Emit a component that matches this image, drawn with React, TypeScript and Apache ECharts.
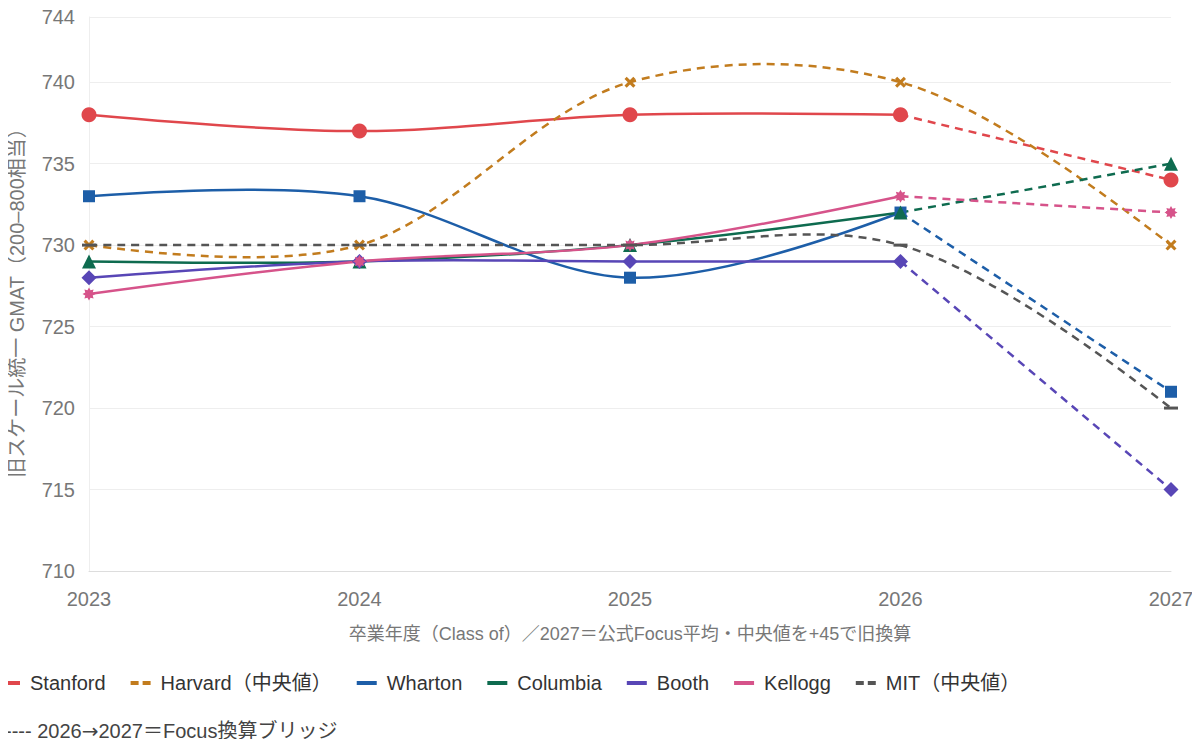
import React, { useEffect, useRef } from "react";
import * as echarts from "echarts";

const years = ["2023", "2024", "2025", "2026", "2027"];
const stanford = [738, 737, 738, 738, 734];
const harvard = [730, 730, 740, 740, 730];
const wharton = [733, 733, 728, 732, 721];
const columbia = [729, 729, 730, 732, 735];
const booth = [728, 729, 729, 729, 715];
const kellogg = [727, 729, 730, 733, 732];
const mit = [730, 730, 730, 730, 720];

const FONT = "'Liberation Sans', Arial, 'Noto Sans CJK JP', sans-serif";

function starPath(points: number, outer: number, inner: number): string {
  const parts: string[] = [];
  for (let i = 0; i < points * 2; i++) {
    const r = i % 2 === 0 ? outer : inner;
    const a = (Math.PI * i) / points - Math.PI / 2;
    parts.push(`${i === 0 ? "M" : "L"}${(10 + r * Math.cos(a)).toFixed(2)},${(10 + r * Math.sin(a)).toFixed(2)}`);
  }
  return "path://" + parts.join(" ") + " Z";
}

const X_SYMBOL = "path://M0,2 L2,0 L5,3 L8,0 L10,2 L7,5 L10,8 L8,10 L5,7 L2,10 L0,8 L3,5 Z";
const DASH_SYMBOL = "path://M0,0 L10,0 L10,2 L0,2 Z";
const STAR_SYMBOL = starPath(8, 10, 6.2);
const DASHED_ICON = "path://M0,0 L8,0 L8,4 L0,4 Z M12,0 L20,0 L20,4 L12,4 Z";

type School = {
  name: string;
  data: number[];
  color: string;
  symbol: string;
  size: number | number[];
  dashedAll: boolean;
};

const schools: School[] = [
  { name: "Stanford", data: stanford, color: "#e0474c", symbol: "circle", size: 15, dashedAll: false },
  { name: "Harvard（中央値）", data: harvard, color: "#c27c1e", symbol: X_SYMBOL, size: 11, dashedAll: true },
  { name: "Wharton", data: wharton, color: "#1d5ea8", symbol: "rect", size: 12, dashedAll: false },
  { name: "Columbia", data: columbia, color: "#0e6b4f", symbol: "triangle", size: 14, dashedAll: false },
  { name: "Booth", data: booth, color: "#5846b6", symbol: "diamond", size: 15, dashedAll: false },
  { name: "Kellogg", data: kellogg, color: "#d6538a", symbol: STAR_SYMBOL, size: 13, dashedAll: false },
  { name: "MIT（中央値）", data: mit, color: "#555555", symbol: DASH_SYMBOL, size: [14, 3], dashedAll: true },
];

const DASH = [8, 6];

// Catmull-Rom style spline (tangents from neighbours), in pixel space
function tangent(p: number[], t: number[], n: number[]): number[][] {
  const d1x = p[0] - t[0], d1y = p[1] - t[1];
  const d2x = n[0] - t[0], d2y = n[1] - t[1];
  const d1a = Math.pow(d1x * d1x + d1y * d1y, 0.25);
  const d2a = Math.pow(d2x * d2x + d2y * d2y, 0.25);
  const numx = d2a * d2a * d1x - d1a * d1a * d2x;
  const numy = d2a * d2a * d1y - d1a * d1a * d2y;
  const den1 = 3 * d2a * (d1a + d2a);
  const den2 = 3 * d1a * (d1a + d2a);
  return [
    [t[0] + (den1 ? numx / den1 : 0), t[1] + (den1 ? numy / den1 : 0)],
    [t[0] - (den2 ? numx / den2 : 0), t[1] - (den2 ? numy / den2 : 0)],
  ];
}

function splinePath(pts: number[][]): string {
  const f = (q: number[]) => `${q[0].toFixed(2)},${q[1].toFixed(2)}`;
  if (pts.length < 3) return "M" + pts.map(f).join("L");
  const tans: number[][][] = [];
  for (let i = 1; i < pts.length - 1; i++) tans.push(tangent(pts[i - 1], pts[i], pts[i + 1]));
  let d = "M" + f(pts[0]) + "Q" + f(tans[0][0]) + " " + f(pts[1]);
  for (let i = 2; i < pts.length - 1; i++) {
    d += "C" + f(tans[i - 2][1]) + " " + f(tans[i - 1][0]) + " " + f(pts[i]);
  }
  d += "Q" + f(tans[pts.length - 3][1]) + " " + f(pts[pts.length - 1]);
  return d;
}

function lineSeries(name: string, pairs: number[][], color: string, dashed: boolean, z: number) {
  return {
    type: "custom",
    name,
    data: pairs,
    encode: { x: 0, y: 1 },
    silent: true,
    z,
    renderItem: (params: any, api: any) => {
      if (params.dataIndex !== 0) return null;
      const pts = pairs.map((p) => api.coord([p[0], p[1]]));
      return {
        type: "path",
        shape: { pathData: splinePath(pts) },
        style: {
          stroke: color,
          lineWidth: 2.5,
          fill: "none",
          lineDash: dashed ? DASH : null,
        },
      };
    },
  };
}

export default function App() {
  const ref = useRef<HTMLDivElement>(null);

  useEffect(() => {
    if (!ref.current) return;
    const chart = echarts.init(ref.current, undefined, { renderer: "svg" });

    const lines: any[] = [];
    const markers: any[] = [];
    schools.forEach((s) => {
      const pairs = s.data.map((v, i) => [i, v]);
      if (s.dashedAll) {
        lines.push(lineSeries(s.name, pairs, s.color, true, 2));
      } else {
        lines.push(lineSeries(s.name, pairs.slice(0, 4), s.color, false, 2));
        lines.push(lineSeries(s.name, pairs.slice(3), s.color, true, 2));
      }
      markers.push({
        type: "scatter",
        name: s.name,
        data: pairs,
        symbol: s.symbol,
        symbolSize: s.size,
        itemStyle: { color: s.color, opacity: 1 },
        z: 3,
      });
    });

    chart.setOption({
      animation: false,
      backgroundColor: "#ffffff",
      textStyle: { fontFamily: FONT },
      grid: { left: 89, right: 29, top: 17, bottom: 176, containLabel: false },
      legend: {
        left: 0,
        top: 673,
        padding: 0,
        itemGap: 25,
        itemWidth: 20,
        itemHeight: 4,
        textStyle: { fontSize: 20, color: "#333", fontFamily: FONT, padding: [0, 0, 0, 5] },
        data: schools.map((s) => ({
          name: s.name,
          icon: s.dashedAll ? DASHED_ICON : "rect",
          itemStyle: { color: s.color },
        })),
      },
      graphic: [
        {
          type: "text",
          x: 5,
          y: 731,
          style: {
            text: "---- 2026{a|→}2027＝Focus換算ブリッジ",
            fontSize: 20,
            fill: "#444",
            fontFamily: FONT,
            verticalAlign: "middle",
            rich: {
              a: { fontSize: 20, fontFamily: "'DejaVu Sans', sans-serif", fill: "#444" },
            },
          },
        },
        {
          type: "text",
          x: 17,
          y: 298,
          rotation: Math.PI / 2,
          style: {
            text: "旧スケール統一 GMAT（200–800相当）",
            fontSize: 20,
            fill: "#777",
            fontFamily: FONT,
            align: "center",
            verticalAlign: "middle",
          },
        },
      ],
      xAxis: {
        type: "category",
        data: years,
        boundaryGap: false,
        axisLine: { show: true, lineStyle: { color: "#dddddd" } },
        axisTick: { show: false },
        axisLabel: { fontSize: 20, color: "#777", margin: 18 },
        splitLine: { show: false },
        name: "卒業年度（Class of）／2027＝公式Focus平均・中央値を+45で旧換算",
        nameLocation: "middle",
        nameGap: 54,
        nameTextStyle: { fontSize: 18, color: "#777", fontFamily: FONT },
      },
      yAxis: {
        type: "value",
        min: 710,
        max: 744,
        interval: 5,
        axisLine: { show: true, lineStyle: { color: "#eeeeee" } },
        axisTick: { show: false },
        axisLabel: { fontSize: 20, color: "#777", margin: 14 },
        splitLine: { show: true, lineStyle: { color: "#eeeeee" } },
      },
      series: [...lines, ...markers],
    });

    return () => chart.dispose();
  }, []);

  return <div ref={ref} style={{ width: 1200, height: 747, margin: -8 }} />;
}
